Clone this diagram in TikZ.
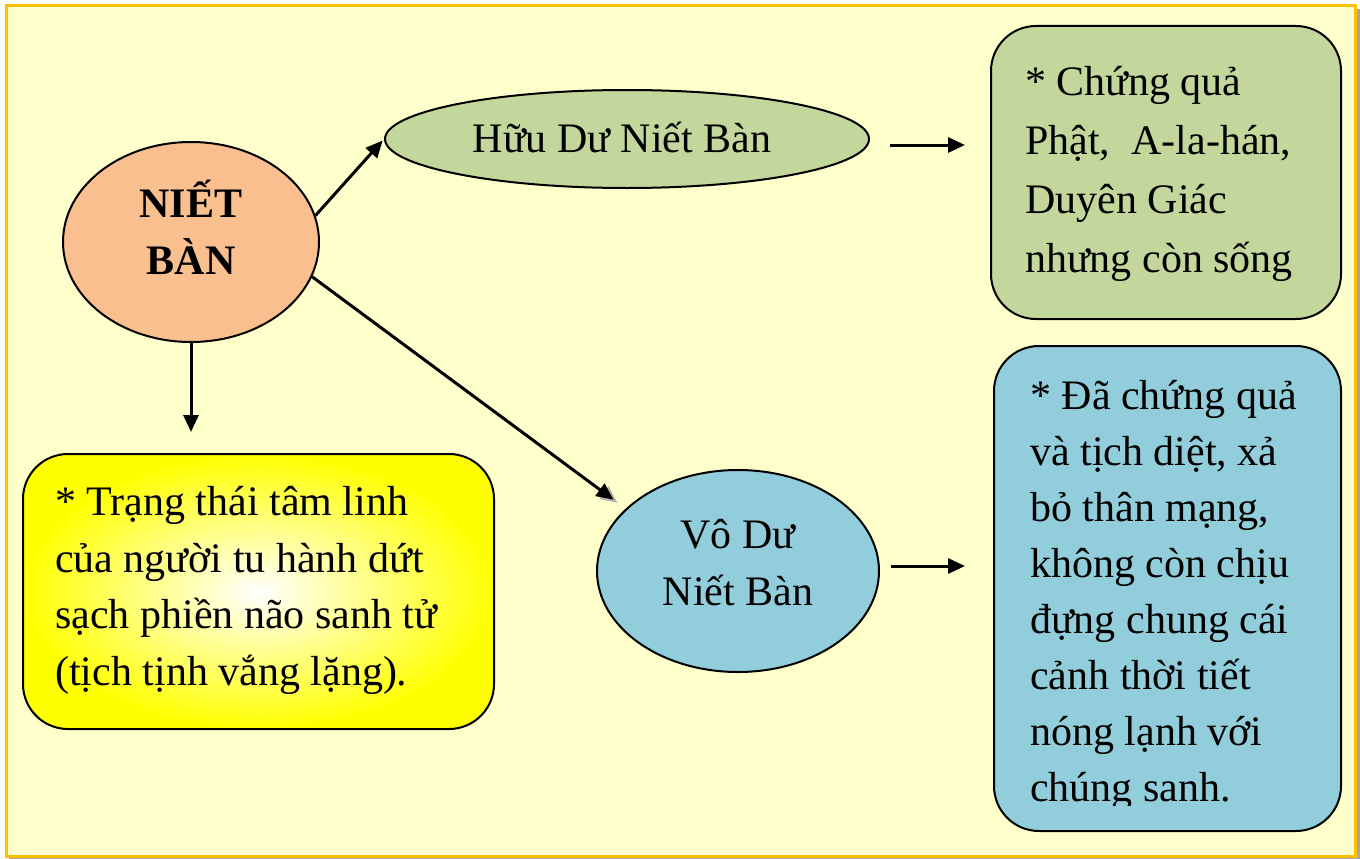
\documentclass[tikz,border=0pt]{standalone}
\usepackage{fontspec}
\setmainfont{Liberation Serif}
\usetikzlibrary{arrows.meta,shapes.geometric,calc}
\definecolor{bgc}{HTML}{FFFFCC}
\definecolor{framec}{HTML}{FFC000}
\definecolor{salmonc}{HTML}{FABF8F}
\definecolor{greenc}{HTML}{C3D69B}
\definecolor{bluec}{HTML}{92CDDC}
\definecolor{yellowc}{HTML}{FFFF00}
\tikzset{
  oval/.style={ellipse, draw=black, line width=2pt, inner sep=0pt},
  card/.style={draw=black, line width=2pt, rounded corners=45pt, anchor=north west, inner sep=0pt},
  body/.style={font=\fontsize{42}{57}\selectfont, align=left, inner sep=0pt},
  arr/.style={line width=3pt, -{Triangle[length=17pt,width=15pt]}},
}
\begin{document}
\begin{tikzpicture}[x=1pt,y=-1pt]
\useasboundingbox (0,0) rectangle (1360,859);
% frame
\fill[gray!70] (9,9) rectangle (1360,859);
\draw[fill=bgc, draw=framec, line width=3pt] (6,6) rectangle (1355,856);

% ellipses
\node[oval, fill=salmonc, minimum width=256pt, minimum height=200pt] (niet) at (191,242) {};
\node[font=\fontsize{42}{57}\selectfont\bfseries, align=center, anchor=base, inner sep=0pt] (niettext) at (191,274) {NIẾT\\BÀN};

\node[oval, fill=greenc, minimum width=484pt, minimum height=98pt] (huu) at (627,139) {};
\node[body, anchor=base, align=center] (huutext) at (622,152) {Hữu Dư Niết Bàn};

\node[oval, fill=bluec, minimum width=282pt, minimum height=202pt] (vodu) at (738,571) {};
\node[body, anchor=base, align=center] (vodutext) at (738,605) {Vô Dư\\Niết Bàn};

% boxes
\node[card, fill=greenc, minimum width=350pt, minimum height=293pt] (green) at (990,25) {};
\node[body, anchor=base west, font=\fontsize{42}{59}\selectfont] (greentext) at (1025,272) {%
* Chứng quả\\
Phật,\ \ A-la-hán,\\
Duyên Giác\\
nhưng còn sống};

\node[card, fill=bluec, minimum width=347pt, minimum height=485pt] (blue) at (993,345) {};
\begin{scope}
\clip (993,345) rectangle (1340,805);
\node[body, anchor=base west, font=\fontsize{42}{56}\selectfont] (bluetext) at (1030,801) {%
* Đã chứng quả\\
và tịch diệt, xả\\
bỏ thân mạng,\\
không còn chịu\\
đựng chung cái\\
cảnh thời tiết\\
nóng lạnh với\\
chúng sanh.};
\end{scope}

\node[card, shading=radial, inner color=white, outer color=yellowc, minimum width=471pt, minimum height=275pt] (yel) at (22,453) {};
\node[body, anchor=base west, font=\fontsize{42}{56.5}\selectfont] (yeltext) at (55,685) {%
* Trạng thái tâm linh\\
của người tu hành dứt\\
sạch phiền não sanh tử\\
(tịch tịnh vắng lặng).};

% connectors
\draw[arr, shorten >=2pt] (niet.12) -- (huu.west);
\draw[arr, draw=gray!60, fill=gray!60, shorten >=15pt, shorten <=360pt, transform canvas={shift={(4pt,-3pt)}}] (niet.-16) -- (vodu.151);
\draw[arr, shorten >=15pt] (niet.-16) -- (vodu.151);
\draw[arr, shorten >=21pt] (niet.south) -- (niet.south |- yel.north);
\draw[arr, shorten <=20pt, shorten >=25pt] ([yshift=-6pt]huu.east) -- ([yshift=-6pt]huu.east -| green.west);
\draw[arr, shorten <=11pt, shorten >=28pt] ([yshift=5pt]vodu.east) -- ([yshift=5pt]vodu.east -| blue.west);
\end{tikzpicture}
\end{document}
